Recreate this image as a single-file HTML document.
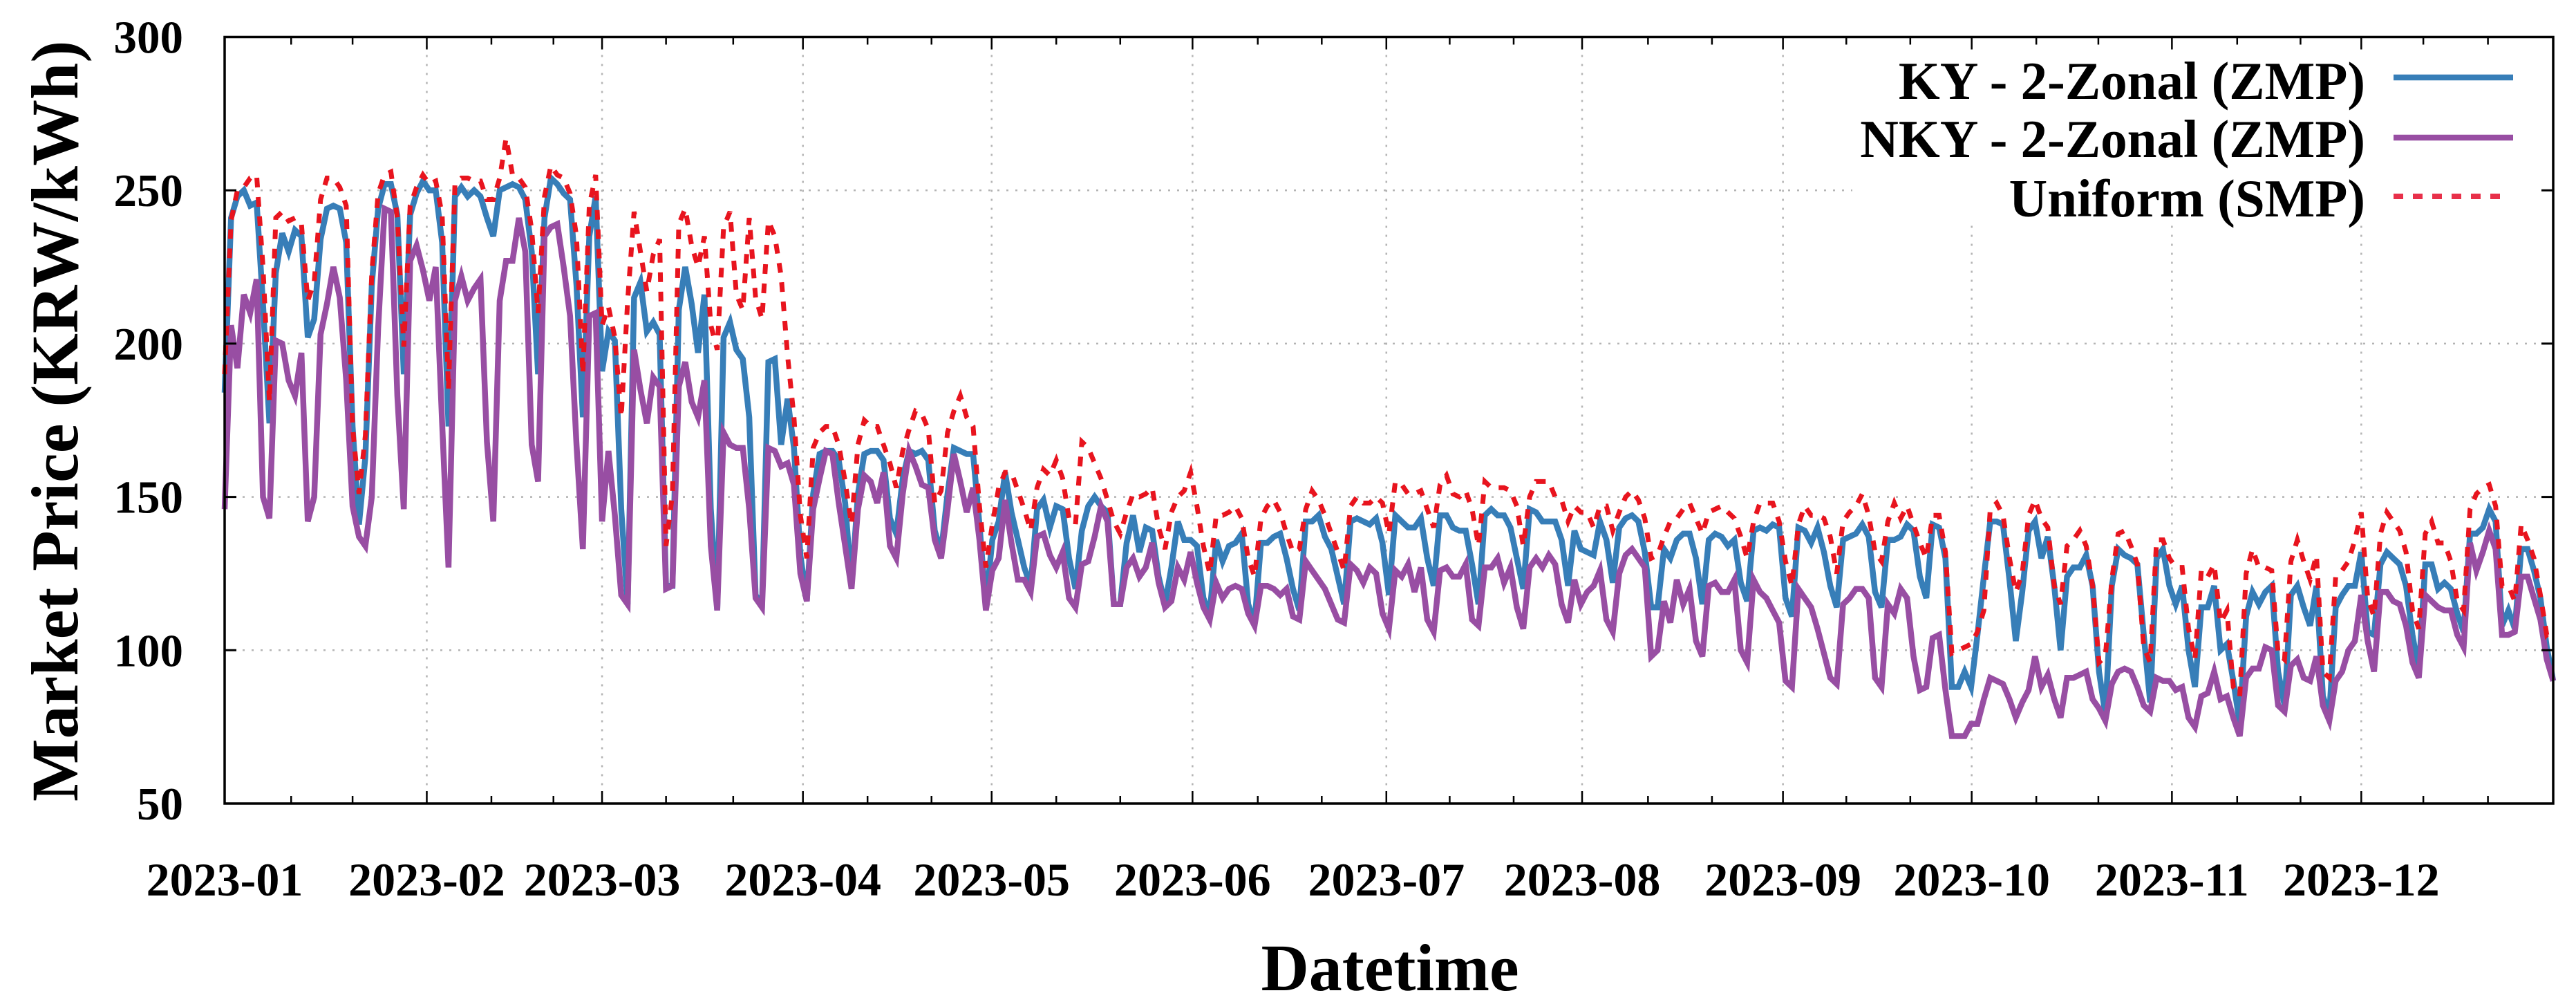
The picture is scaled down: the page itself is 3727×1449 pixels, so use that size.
<!DOCTYPE html>
<html lang="en">
<head>
<meta charset="utf-8">
<title>Market Price Chart</title>
<style>
html,body{margin:0;padding:0;background:#fff;width:3727px;height:1449px;overflow:hidden}
svg{display:block;font-family:"Liberation Serif",serif;font-weight:bold;fill:#000}
</style>
</head>
<body>
<svg id="chart" xmlns="http://www.w3.org/2000/svg" width="3727" height="1449" viewBox="0 0 3727 1449">
  <rect x="0" y="0" width="3727" height="1449" fill="#fff"/>
  <g id="grid"></g>
  <g id="series"></g>
  <rect x="2680" y="57" width="1004" height="263" fill="#fff"/>
  <g id="axes"></g>
  <text transform="translate(112,1159) rotate(-90)" font-size="96">Market Price (KRW/kWh)</text>
  <text x="2011" y="1432" font-size="96" text-anchor="middle">Datetime</text>
  <g>
    <g>
      <text x="3422" y="143" font-size="77" text-anchor="end">KY - 2-Zonal (ZMP)</text>
      <line x1="3463" x2="3636" y1="112" y2="112" stroke="#377eb8" stroke-width="8.5"/>
    </g>
    <g>
      <text x="3422" y="227" font-size="77" text-anchor="end">NKY - 2-Zonal (ZMP)</text>
      <line x1="3463" x2="3636" y1="199" y2="199" stroke="#984ea3" stroke-width="8.5"/>
    </g>
    <g>
      <text x="3422" y="313" font-size="77" text-anchor="end">Uniform (SMP)</text>
      <line x1="3463" x2="3628" y1="284" y2="284" stroke="#e8304a" stroke-width="8" stroke-dasharray="14 14"/>
    </g>
  </g>
</svg>
<script>
const yTickValues = [50, 100, 150, 200, 250, 300];
const yGridValues = [100, 150, 200, 250];
const monthLabels = ["2023-01","2023-02","2023-03","2023-04","2023-05","2023-06","2023-07","2023-08","2023-09","2023-10","2023-11","2023-12"];
const monthDays = [0,31.6,59,90.4,119.9,151.3,181.6,212.2,243.6,273.1,304.4,334];
const minorDays = [10.4,20,41.7,51.4,69,79.5,100.5,110.5,130,140,161.5,171.5,191.5,201.5,222.5,232.5,253.5,263.5,283.2,292.9,314.6,324.5,343.7,353.8];
const kyPrice = [
184,241,248,250,245,246,213,174,223,236,
230,237,235,202,208,234,244,245,244,233,
173,141,163,219,244,252,252,242,190,242,
249,253,250,250,233,173,248,251,248,250,
248,241,235,250,251,252,251,247,230,190,
241,254,252,249,247,219,176,235,248,191,
204,201,146,115,215,220,204,207,203,121,
121,211,225,213,197,216,146,113,202,207,
198,195,176,118,115,194,195,167,182,166,
131,116,151,164,165,165,162,148,121,151,
164,165,165,162,143,138,156,165,164,165,
162,139,132,151,166,165,164,164,141,115,
136,142,158,145,136,127,121,146,149,140,
147,146,130,120,139,147,150,147,145,115,
115,135,144,132,140,139,124,115,127,142,
136,136,134,117,112,136,129,134,135,138,
115,109,135,135,137,138,130,120,113,142,
142,144,137,133,124,115,142,143,142,141,
143,135,118,144,142,140,140,143,130,121,
144,144,140,139,139,128,115,144,146,144,
144,140,130,120,146,145,142,142,142,136,
121,139,133,132,131,142,136,122,140,143,
144,142,132,114,114,133,130,136,138,138,
130,115,136,138,137,134,136,122,116,139,
140,139,141,140,117,111,140,139,135,140,
132,121,114,136,137,138,141,137,119,114,
136,136,137,141,139,124,117,141,140,130,
88,88,93,88,105,124,142,142,141,123,
103,119,139,142,130,137,121,100,124,127,
127,131,121,93,79,121,133,131,130,128,
105,83,130,133,121,115,121,100,88,114,
114,121,100,102,90,76,111,119,115,119,
121,93,82,118,121,114,108,121,85,79,
114,118,121,121,132,106,105,128,132,130,
128,121,105,93,128,128,120,122,120,112,
106,138,138,140,146,142,108,113,107,133,
133,126,117,101,90
];
const nkyPrice = [
146,206,192,216,210,221,150,143,201,200,
188,183,197,142,150,203,213,225,215,188,
147,137,134,150,205,244,243,183,146,227,
232,224,214,225,174,127,214,222,214,218,
221,168,142,214,227,227,241,230,167,155,
235,238,239,225,209,167,133,209,210,142,
165,144,118,115,198,185,174,189,186,120,
121,186,194,181,176,188,134,113,171,167,
166,166,146,117,114,166,165,160,161,154,
125,116,146,156,165,164,148,134,120,146,
157,155,148,158,134,130,151,165,160,154,
153,136,130,146,164,155,145,153,136,113,
126,130,149,135,123,123,119,137,138,131,
127,132,117,114,128,129,137,147,142,115,
115,127,130,124,127,135,122,114,116,127,
123,132,122,114,110,122,117,120,121,120,
112,108,121,121,120,118,120,111,110,129,
126,123,120,115,110,109,128,126,122,127,
125,112,107,126,124,128,119,127,110,106,
126,127,124,124,128,110,108,127,127,130,
122,127,114,107,127,130,127,131,128,115,
109,123,115,119,121,126,110,106,125,131,
133,130,127,98,100,116,109,123,115,120,
103,98,121,122,119,119,123,100,96,123,
119,117,113,109,90,88,120,117,114,107,
99,91,89,115,117,120,120,117,91,88,
115,112,120,117,98,87,88,104,105,87,
72,72,72,76,76,84,91,90,89,84,
78,83,87,98,88,92,84,78,91,91,
92,93,84,81,77,89,93,94,93,88,
82,80,91,90,90,87,88,78,75,85,
86,93,84,85,78,72,91,94,94,101,
100,82,80,95,97,91,90,98,82,77,
90,93,100,103,118,103,93,119,119,116,
115,108,96,91,118,116,114,113,113,105,
101,135,126,132,139,133,105,105,106,124,
124,117,110,97,90
];
const uniformPrice = [
190,240,250,251,254,255,225,181,241,243,
240,241,239,214,220,247,254,254,251,245,
173,151,170,223,249,255,256,241,199,245,
251,255,252,253,242,185,252,254,254,253,
253,247,247,254,267,255,254,251,237,210,
248,258,255,254,249,235,190,245,255,206,
212,202,176,214,243,230,217,229,234,134,
151,239,244,232,225,235,206,198,238,243,
216,211,241,215,208,240,235,222,196,176,
144,130,166,171,173,173,167,155,141,167,
175,173,173,167,161,153,165,172,178,177,
172,148,152,171,178,183,176,173,147,127,
141,153,158,158,152,146,139,153,159,157,
162,156,143,141,168,166,161,156,149,142,
138,145,151,150,151,153,140,133,145,150,
152,158,147,134,125,144,144,145,147,143,
130,124,143,147,149,145,138,132,133,146,
152,149,144,138,132,126,147,150,148,148,
150,148,138,155,154,151,151,152,146,140,
154,157,151,150,152,146,134,155,153,153,
153,152,147,134,150,155,155,155,150,149,
142,147,145,145,140,147,147,139,145,150,
152,149,143,130,131,137,142,143,146,148,
143,138,145,146,147,145,143,137,130,142,
148,148,148,142,129,121,141,147,144,144,
143,137,125,142,145,147,151,144,132,129,
142,148,143,147,141,135,130,144,144,132,
99,100,101,102,106,113,146,148,144,130,
119,125,144,149,143,140,121,115,134,136,
139,134,121,96,98,123,138,139,134,128,
101,96,136,136,130,127,127,107,97,126,
124,128,109,113,88,85,125,133,127,127,
126,99,97,129,136,129,123,131,93,91,
124,126,129,136,145,117,111,138,145,142,
139,132,113,107,138,142,135,135,129,116,
113,146,151,153,154,147,121,121,116,141,
136,130,118,105,107
];

const NS = "http://www.w3.org/2000/svg";
const plot = {left: 325, right: 3694, top: 53.5, bottom: 1162};
function xScale(day) { return plot.left + day * (plot.right - plot.left) / 364; }
function yScale(v) { return plot.bottom - (v - 50) * (plot.bottom - plot.top) / 250; }
function mk(tag, parent, attrs) {
  const el = document.createElementNS(NS, tag);
  for (const k in attrs) el.setAttribute(k, attrs[k]);
  parent.appendChild(el);
  return el;
}
const gridG = document.getElementById("grid");
const seriesG = document.getElementById("series");
const axesG = document.getElementById("axes");
const gridStyle = {stroke: "#b4b4b4", "stroke-width": 2.5, "stroke-dasharray": "3 10"};

yGridValues.forEach(function (v) {
  const el = mk("line", gridG, Object.assign({x1: plot.left, x2: plot.right, y1: yScale(v), y2: yScale(v)}, gridStyle));
  
  
});
monthDays.forEach(function (d) {
  const el = mk("line", gridG, Object.assign({x1: xScale(d), x2: xScale(d), y1: plot.top, y2: plot.bottom}, gridStyle));
  
  
});

function linePath(values) {
  return values.map(function (v, i) { return (i ? "L" : "M") + xScale(i).toFixed(1) + " " + yScale(v).toFixed(1); }).join("");
}
const kyLine = mk("path", seriesG, {d: linePath(kyPrice), fill: "none", stroke: "#377eb8", "stroke-width": 8.5, "stroke-linejoin": "miter"});


const nkyLine = mk("path", seriesG, {d: linePath(nkyPrice), fill: "none", stroke: "#984ea3", "stroke-width": 8.5, "stroke-linejoin": "miter"});


const uniformLine = mk("path", seriesG, {d: linePath(uniformPrice), fill: "none", stroke: "#e8141e", "stroke-width": 7, "stroke-dasharray": "14 14", "stroke-linejoin": "miter"});



const frame = mk("rect", axesG, {x: plot.left, y: plot.top, width: plot.right - plot.left, height: plot.bottom - plot.top, fill: "none", stroke: "#000", "stroke-width": 3.5});



yTickValues.forEach(function (v) {
  const y = yScale(v);
  const left = mk("line", axesG, {x1: plot.left, x2: plot.left + 17, y1: y, y2: y, stroke: "#000", "stroke-width": 3});
  
  
  const right = mk("line", axesG, {x1: plot.right - 17, x2: plot.right, y1: y, y2: y, stroke: "#000", "stroke-width": 3});
  
  
  const label = mk("text", axesG, {x: 265, y: y + 23, "font-size": 67, "text-anchor": "end"});
  label.textContent = String(v);
  
  
});
monthDays.forEach(function (d, i) {
  const x = xScale(d);
  const bottom = mk("line", axesG, {x1: x, x2: x, y1: plot.bottom - 18, y2: plot.bottom, stroke: "#000", "stroke-width": 2.5});
  
  
  const top = mk("line", axesG, {x1: x, x2: x, y1: plot.top, y2: plot.top + 18, stroke: "#000", "stroke-width": 2.5});
  
  
  const label = mk("text", axesG, {x: x, y: 1295, "font-size": 68, "text-anchor": "middle"});
  label.textContent = monthLabels[i];
  
  
});
minorDays.forEach(function (d) {
  const x = xScale(d);
  const bottom = mk("line", axesG, {x1: x, x2: x, y1: plot.bottom - 11, y2: plot.bottom, stroke: "#000", "stroke-width": 2.5});
  
  
  const top = mk("line", axesG, {x1: x, x2: x, y1: plot.top, y2: plot.top + 11, stroke: "#000", "stroke-width": 2.5});
  
  
});
</script>
</body>
</html>
